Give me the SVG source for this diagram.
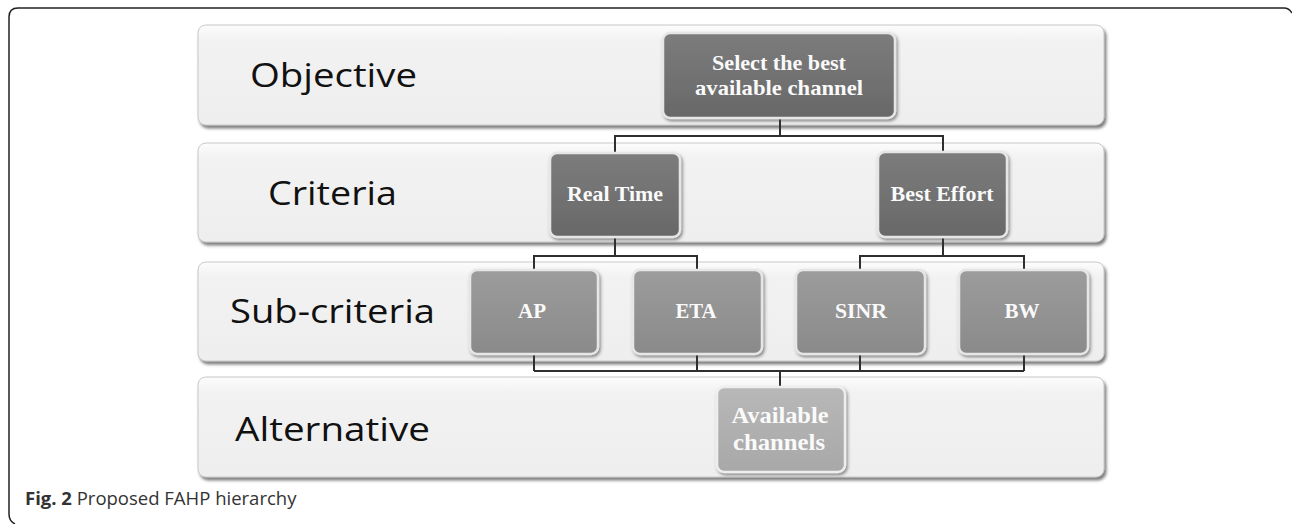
<svg xmlns="http://www.w3.org/2000/svg" width="1292" height="524" viewBox="0 0 1292 524">
<style>
.band{fill:url(#bandG);stroke:#c8c8c8;stroke-width:1;filter:url(#sh)}
.lbl{font-family:"Open Sans","Liberation Sans",sans-serif;font-size:33px;fill:#111}
.nt{font-family:"Liberation Serif","Times New Roman",serif;font-weight:bold;font-size:21px;fill:#fafafa;text-anchor:middle}
.dark{fill:url(#darkG);stroke:#e6e6e6;stroke-width:2.5;filter:url(#sh2)}
.mid{fill:url(#midG);stroke:#e6e6e6;stroke-width:2.5;filter:url(#sh2)}
.light{fill:url(#lightG);stroke:#eeeeee;stroke-width:2.5;filter:url(#sh2)}
.con{fill:none;stroke:#2e2e2e;stroke-width:2}
.cap{font-family:"Open Sans","Liberation Sans",sans-serif;font-size:18.5px;fill:#333}
</style>
<defs>
<linearGradient id="bandG" x1="0" y1="0" x2="0" y2="1">
<stop offset="0" stop-color="#fcfcfc"/><stop offset="0.15" stop-color="#f2f2f2"/><stop offset="1" stop-color="#eeeeee"/>
</linearGradient>
<linearGradient id="darkG" x1="0" y1="0" x2="0" y2="1">
<stop offset="0" stop-color="#7c7c7c"/><stop offset="1" stop-color="#686868"/>
</linearGradient>
<linearGradient id="midG" x1="0" y1="0" x2="0" y2="1">
<stop offset="0" stop-color="#9c9c9c"/><stop offset="1" stop-color="#8a8a8a"/>
</linearGradient>
<linearGradient id="lightG" x1="0" y1="0" x2="0" y2="1">
<stop offset="0" stop-color="#b8b8b8"/><stop offset="1" stop-color="#a8a8a8"/>
</linearGradient>
<filter id="sh" x="-5%" y="-10%" width="110%" height="130%">
<feDropShadow dx="2" dy="3" stdDeviation="1.5" flood-color="#555" flood-opacity="0.75"/>
</filter>
<filter id="sh2" x="-10%" y="-10%" width="125%" height="130%">
<feDropShadow dx="1.5" dy="2" stdDeviation="1.5" flood-color="#444" flood-opacity="0.6"/>
</filter>
</defs>
<rect width="1292" height="524" fill="#ffffff"/>
<path d="M15 524 Q9 521 9 514 V17 Q9 8 18 8 H1284 Q1289 8 1292 13" fill="none" stroke="#222" stroke-width="1.5"/>

<g id="band-objective">
<rect class="band" x="198" y="25" width="906" height="100" rx="8"/>
<text class="lbl" x="250" y="87" textLength="167" lengthAdjust="spacingAndGlyphs">Objective</text>
</g>
<g id="band-criteria">
<rect class="band" x="198" y="143" width="906" height="99" rx="8"/>
<text class="lbl" x="268" y="205" textLength="129" lengthAdjust="spacingAndGlyphs">Criteria</text>
</g>
<g id="band-subcriteria">
<rect class="band" x="198" y="262" width="906" height="99" rx="8"/>
<text class="lbl" x="230" y="323" textLength="205" lengthAdjust="spacingAndGlyphs">Sub-criteria</text>
</g>
<g id="band-alternative">
<rect class="band" x="198" y="377" width="906" height="100" rx="8"/>
<text class="lbl" x="235" y="441" textLength="195" lengthAdjust="spacingAndGlyphs">Alternative</text>
</g>

<g id="connectors">
<path class="con" d="M780 118 V136 M615 153 V136 H943 V152"/>
<path class="con" d="M615 237 V256 M534 270 V256 H697 V270 M943 237 V256 M860 270 V256 H1024 V270"/>
<path class="con" d="M534 354 V371 M697 354 V371 M860 354 V371 M1024 354 V371 M534 371 H1024 M780 371 V387"/>
</g>

<g id="node-objective">
<rect class="dark" x="663" y="33" width="232" height="85" rx="7"/>
<text class="nt" x="779" y="70" textLength="134" lengthAdjust="spacingAndGlyphs">Select the best</text>
<text class="nt" x="779" y="95" textLength="168" lengthAdjust="spacingAndGlyphs">available channel</text>
</g>
<g id="node-realtime">
<rect class="dark" x="550" y="153" width="130" height="84" rx="7"/>
<text class="nt" x="615" y="201" textLength="96" lengthAdjust="spacingAndGlyphs">Real Time</text>
</g>
<g id="node-besteffort">
<rect class="dark" x="878" y="152" width="129" height="85" rx="7"/>
<text class="nt" x="942" y="201" textLength="103" lengthAdjust="spacingAndGlyphs">Best Effort</text>
</g>
<g id="node-ap">
<rect class="mid" x="470" y="270" width="128" height="84" rx="7"/>
<text class="nt" x="532" y="318" textLength="28" lengthAdjust="spacingAndGlyphs">AP</text>
</g>
<g id="node-eta">
<rect class="mid" x="633" y="270" width="129" height="84" rx="7"/>
<text class="nt" x="696" y="318" textLength="41" lengthAdjust="spacingAndGlyphs">ETA</text>
</g>
<g id="node-sinr">
<rect class="mid" x="796" y="270" width="129" height="84" rx="7"/>
<text class="nt" x="861" y="318" textLength="52" lengthAdjust="spacingAndGlyphs">SINR</text>
</g>
<g id="node-bw">
<rect class="mid" x="959" y="270" width="129" height="84" rx="7"/>
<text class="nt" x="1022" y="318" textLength="35" lengthAdjust="spacingAndGlyphs">BW</text>
</g>
<g id="node-available">
<rect class="light" x="717" y="387" width="128" height="85" rx="7"/>
<text class="nt" x="780" y="423" textLength="97" lengthAdjust="spacingAndGlyphs" style="font-size:24px">Available</text>
<text class="nt" x="779" y="450" textLength="92" lengthAdjust="spacingAndGlyphs" style="font-size:24px">channels</text>
</g>

<text class="cap" x="25" y="505"><tspan font-weight="bold">Fig. 2</tspan> Proposed FAHP hierarchy</text>
</svg>
